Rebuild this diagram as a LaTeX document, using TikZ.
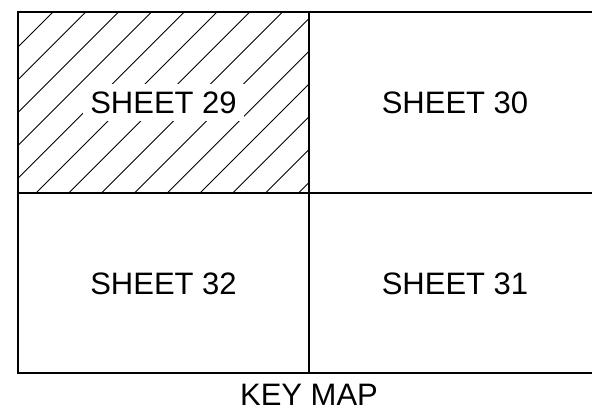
\documentclass[tikz,border=0pt]{standalone}
\usepackage{fontspec}
\setmainfont{Liberation Sans}
\begin{document}
\begin{tikzpicture}[x=1pt,y=-1pt,
  frame/.style={line width=1.3pt, draw=black},
  hatch/.style={line width=0.9pt, draw=black},
  label/.style={font=\fontsize{31}{31}\selectfont, text height=22.2pt, text depth=0pt, inner xsep=7pt, inner ysep=7pt, anchor=center},
]
\useasboundingbox (0,0) rectangle (592,411);
% hatching in sheet 29
\begin{scope}
  \clip (18,12) rectangle (309,193);
  \foreach \k in {0,...,14} {
    \pgfmathsetmacro{\c}{65+32.8*\k}
    \draw[hatch] (\c-250,250) -- (\c+50,-50);
  }
\end{scope}
% grid
\draw[frame] (18,12) rectangle (601,373);
\draw[frame] (309,12) -- (309,373);
\draw[frame] (18,193) -- (601,193);
% labels
\node[label, fill=white] (s29) at (163.5,102.5) {SHEET 29};
\node[label] (s30) at (455,102.5) {SHEET 30};
\node[label] (s32) at (163.5,283) {SHEET 32};
\node[label] (s31) at (455,283) {SHEET 31};
\node[label] (key) at (309,394) {KEY MAP};
\end{tikzpicture}
\end{document}
